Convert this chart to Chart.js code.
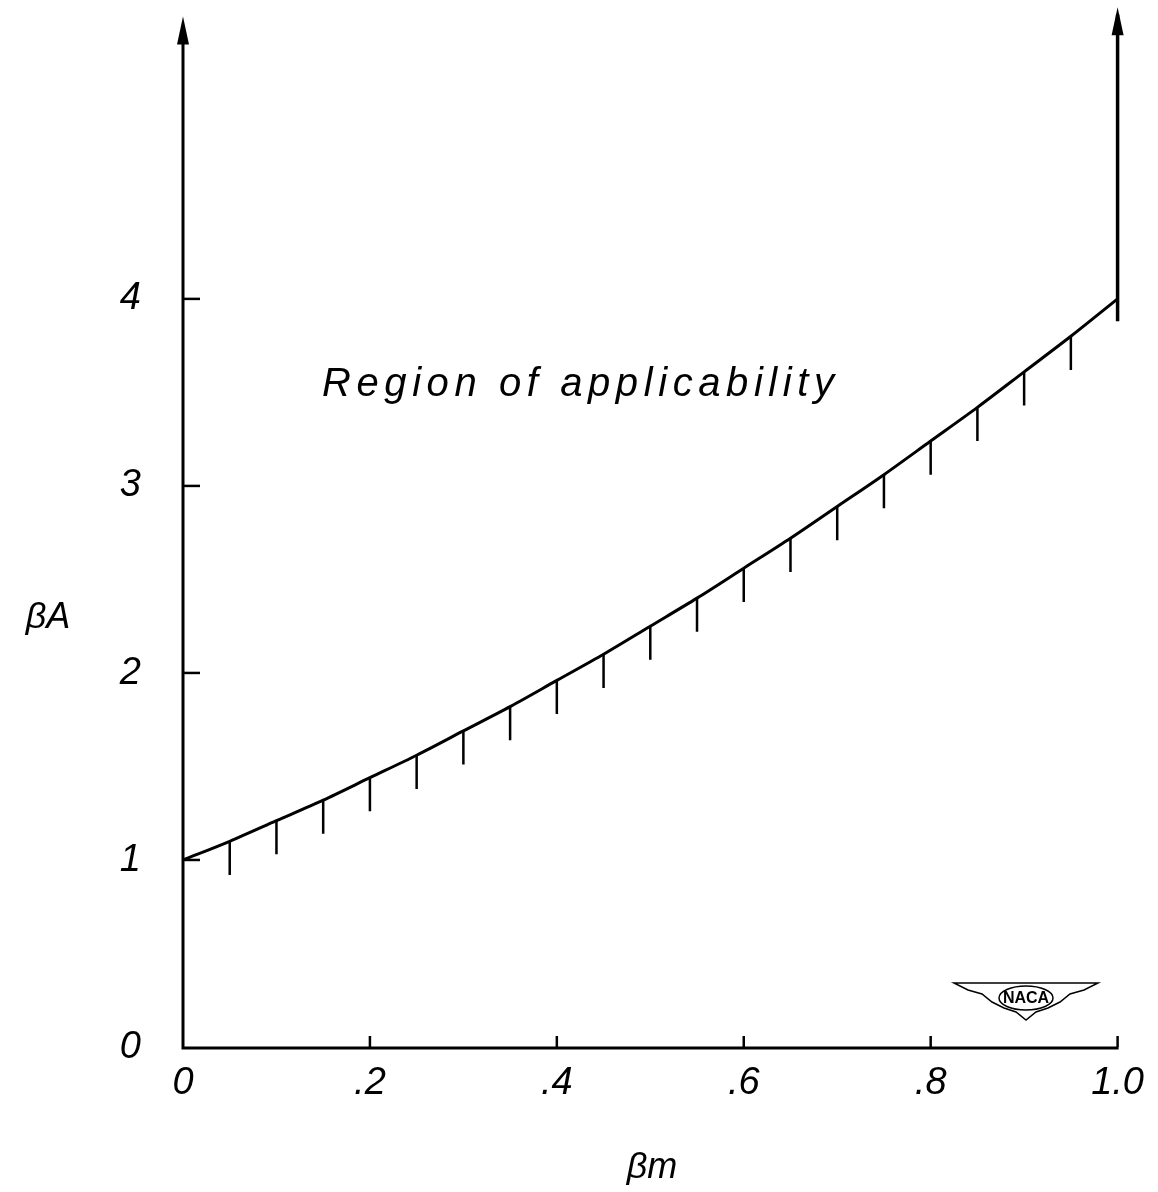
<!DOCTYPE html>
<html>
<head>
<meta charset="utf-8">
<title>Region of applicability</title>
<script src="https://cdn.jsdelivr.net/npm/chart.js@4/dist/chart.umd.min.js"></script>
<style>
  body { margin: 0; background: #fff; }
  canvas { display: block; }
</style>
</head>
<body>
<canvas id="chart" width="1158" height="1192"></canvas>
<script>
// === DADOS ===
const betaM = [0, 0.05, 0.10, 0.15, 0.20, 0.25, 0.30, 0.35, 0.40, 0.45, 0.50,
               0.55, 0.60, 0.65, 0.70, 0.75, 0.80, 0.85, 0.90, 0.95, 1.00];
const betaA = [1.00, 1.10, 1.21, 1.32, 1.44, 1.56, 1.69, 1.82, 1.96, 2.10, 2.25,
               2.40, 2.56, 2.72, 2.89, 3.06, 3.24, 3.42, 3.61, 3.80, 4.00];
const hatchX = [0.05, 0.10, 0.15, 0.20, 0.25, 0.30, 0.35, 0.40, 0.45, 0.50,
                0.55, 0.60, 0.65, 0.70, 0.75, 0.80, 0.85, 0.90, 0.95];
const HATCH_LEN = 0.18;              // comprimento do tracinho (unidades de βA)
const boundX = [1.0, 1.0];           // linha vertical em βm = 1.0
const boundY = [3.88, 5.52];
const xTicks = [0, 0.2, 0.4, 0.6, 0.8, 1.0];
const xTickLabels = ["0", ".2", ".4", ".6", ".8", "1.0"];
const yTicks = [0, 1, 2, 3, 4];
const yTickLabels = ["0", "1", "2", "3", "4"];

const FONT = "'Liberation Sans', 'DejaVu Sans', sans-serif";

// === MONTAGEM DOS DATASETS ===
const curvePts = betaM.map((x, i) => ({ x: x, y: betaA[i] }));

const hatchPts = [];
hatchX.forEach(x => {
    const i = betaM.indexOf(x);
    const y = betaA[i];
    hatchPts.push({ x: x, y: y }, { x: x, y: y - HATCH_LEN }, { x: x, y: null });
});

const boundPts = boundX.map((x, i) => ({ x: x, y: boundY[i] }));

// === PLUGIN: eixos, setas, textos ===
function arrow(ctx, x, tipY) {
    ctx.beginPath();
    ctx.moveTo(x, tipY);
    ctx.lineTo(x - 6, tipY + 28);
    ctx.lineTo(x + 6, tipY + 28);
    ctx.closePath();
    ctx.fill();
}

function spaced(ctx, text, x, y, width) {
    // espalha as letras para ocupar a largura da legenda original
    const w = ctx.measureText(text).width;
    const gap = (width - w) / (text.length - 1);
    let cx = x;
    for (const ch of text) {
        ctx.fillText(ch, cx, y);
        cx += ctx.measureText(ch).width + gap;
    }
}

const decor = {
    id: "decor",
    afterDraw(chart) {
        const ctx = chart.ctx;
        const sx = chart.scales.x, sy = chart.scales.y;
        const x0 = sx.getPixelForValue(0), x1 = sx.getPixelForValue(1);
        const y0 = sy.getPixelForValue(0);
        ctx.save();
        ctx.strokeStyle = "#000";
        ctx.fillStyle = "#000";
        ctx.lineCap = "butt";

        // eixos
        ctx.lineWidth = 3;
        ctx.beginPath();
        ctx.moveTo(x0, sy.getPixelForValue(5.45));
        ctx.lineTo(x0, y0 + 1);
        ctx.lineTo(x1 + 1, y0 + 1);
        ctx.stroke();

        // tracinhos internos
        ctx.lineWidth = 2.5;
        yTicks.slice(1).forEach(v => {
            const p = sy.getPixelForValue(v);
            ctx.beginPath(); ctx.moveTo(x0, p); ctx.lineTo(x0 + 17, p); ctx.stroke();
        });
        xTicks.slice(1).forEach(v => {
            const p = sx.getPixelForValue(v);
            ctx.beginPath(); ctx.moveTo(p, y0); ctx.lineTo(p, y0 - 11); ctx.stroke();
        });

        // setas
        arrow(ctx, x0, sy.getPixelForValue(5.51));
        arrow(ctx, x1, sy.getPixelForValue(5.56));

        // textos
        ctx.font = "italic 36px " + FONT;
        ctx.textBaseline = "middle";
        ctx.textAlign = "center";
        ctx.fillText("βA", 48, 618);
        ctx.fillText("βm", 652, 1168);

        ctx.textAlign = "left";
        ctx.textBaseline = "alphabetic";
        ctx.font = "italic 40px " + FONT;
        spaced(ctx, "Region of applicability", 322, 396, 512);

        // logo NACA
        const cx = 1026, cy = 1000;
        ctx.lineWidth = 1.5;
        ctx.beginPath();
        ctx.moveTo(cx - 72, cy - 17);
        ctx.lineTo(cx + 72, cy - 17);
        ctx.lineTo(cx + 58, cy - 10);
        ctx.lineTo(cx + 44, cy - 6);
        ctx.lineTo(cx + 34, cy + 2);
        ctx.lineTo(cx + 22, cy + 8);
        ctx.lineTo(cx + 10, cy + 12);
        ctx.lineTo(cx, cy + 20);
        ctx.lineTo(cx - 10, cy + 12);
        ctx.lineTo(cx - 22, cy + 8);
        ctx.lineTo(cx - 34, cy + 2);
        ctx.lineTo(cx - 44, cy - 6);
        ctx.lineTo(cx - 58, cy - 10);
        ctx.closePath();
        ctx.stroke();
        ctx.fillStyle = "#fff";
        ctx.beginPath();
        ctx.ellipse(cx, cy - 2, 27, 12, 0, 0, Math.PI * 2);
        ctx.fill();
        ctx.stroke();
        ctx.fillStyle = "#000";
        ctx.font = "bold 16px " + FONT;
        ctx.textAlign = "center";
        ctx.textBaseline = "middle";
        ctx.fillText("NACA", cx, cy - 1);
        ctx.restore();
    }
};

// === GRÁFICO ===
new Chart(document.getElementById("chart"), {
    type: "line",
    data: {
        datasets: [
            { data: curvePts, borderColor: "#000", borderWidth: 3, pointRadius: 0,
              tension: 0.3, fill: false, clip: false },
            { data: hatchPts, borderColor: "#000", borderWidth: 2.5, pointRadius: 0,
              spanGaps: false, fill: false, clip: false },
            { data: boundPts, borderColor: "#000", borderWidth: 3.5, pointRadius: 0,
              fill: false, clip: false }
        ]
    },
    options: {
        responsive: false,
        animation: false,
        events: [],
        layout: { padding: { top: 9, right: 36, left: 0, bottom: 0 } },
        plugins: { legend: { display: false }, tooltip: { enabled: false } },
        scales: {
            x: {
                type: "linear", min: 0, max: 1,
                afterFit: s => { s.height = 145; },
                afterBuildTicks: s => { s.ticks = xTicks.map(v => ({ value: v })); },
                grid: { display: false, drawTicks: false },
                border: { display: false },
                ticks: {
                    padding: 14, color: "#000", maxRotation: 0, autoSkip: false,
                    font: { family: FONT, size: 38, style: "italic" },
                    callback: v => xTickLabels[xTicks.indexOf(v)]
                }
            },
            y: {
                type: "linear", min: 0, max: 5.55,
                afterFit: s => { s.width = 183; },
                afterBuildTicks: s => { s.ticks = yTicks.map(v => ({ value: v })); },
                // tick invisível dá o afastamento dos rótulos sem inflar o topo
                grid: { display: true, drawOnChartArea: false, drawTicks: true,
                        tickLength: 42, tickColor: "rgba(0,0,0,0)" },
                border: { display: false },
                ticks: {
                    padding: 0, color: "#000", autoSkip: false,
                    font: { family: FONT, size: 38, style: "italic", lineHeight: 0.4 },
                    callback: v => yTickLabels[yTicks.indexOf(v)]
                }
            }
        }
    },
    plugins: [decor]
});
</script>
</body>
</html>
